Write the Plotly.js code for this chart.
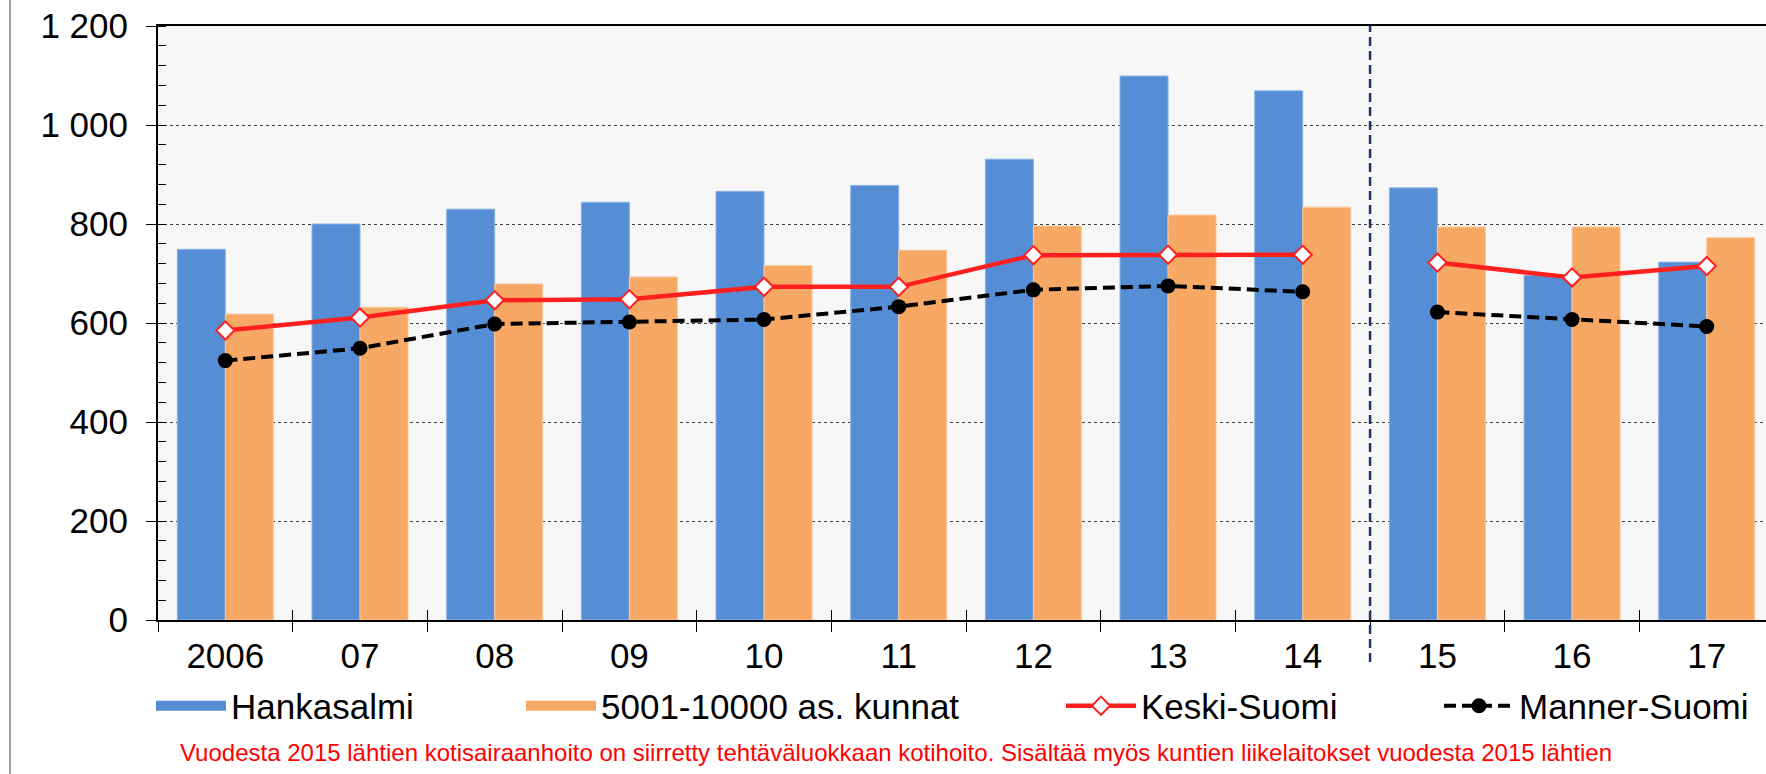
<!DOCTYPE html>
<html>
<head>
<meta charset="utf-8">
<script src="https://cdn.plot.ly/plotly-3.0.1.min.js"></script>
<style>
  html, body { margin: 0; padding: 0; background: #fff; overflow: hidden; }
  #chart { width: 1766px; height: 774px; }
</style>
</head>
<body>
<div id="chart"></div>
<script>
// vuodet ja sarjat (luettu kuvasta)
var years = ['2006', '07', '08', '09', '10', '11', '12', '13', '14', '15', '16', '17'];
var hankasalmi = [749, 800, 830, 844, 866, 878, 931, 1099, 1069, 873, 696, 723];
var kunnat = [618, 632, 679, 693, 716, 747, 796, 818, 834, 794, 794, 772];
var keskiSuomi = [585, 611, 646, 648, 673, 673, 737, 738, 738, 722, 692, 715];
var mannerSuomi = [524, 549, 598, 602, 607, 633, 667, 675, 663, 622, 607, 593];
var breakAt = 9; // 2015 tilastomuutos
var note = 'Vuodesta 2015 lähtien kotisairaanhoito on siirretty tehtäväluokkaan kotihoito. Sisältää myös kuntien liikelaitokset vuodesta 2015 lähtien';

var font = 'Arial, "Liberation Sans", sans-serif';
var red = '#FF1F1F';
var blue = '#558ED5';
var orange = '#F7A864';

var keskiLine = {
    type: 'scatter', mode: 'lines+markers', xaxis: 'x2', yaxis: 'y',
    line: { color: red, width: 4.5 },
    marker: { symbol: 'diamond', size: 14, color: '#fff', line: { color: red, width: 2 } },
    legendgroup: 'keski', cliponaxis: false
};
var mannerLine = {
    type: 'scatter', mode: 'lines+markers', xaxis: 'x2', yaxis: 'y',
    line: { color: '#000', width: 4, dash: '12px,6px' },
    marker: { symbol: 'circle', size: 15, color: '#000' },
    legendgroup: 'manner', cliponaxis: false
};

// leveat selitelaatikot pylväille (Plotlyn oma pylväsmerkki on pieni neliö)
function swatch(name, color, legend) {
    return {
        type: 'scatter', mode: 'lines', name: name, x: [years[0]], y: [null],
        line: { color: color, width: 18 }, legend: legend, hoverinfo: 'skip'
    };
}

var data = [
    {
        type: 'bar', name: 'Hankasalmi', x: years, y: hankasalmi,
        marker: { color: blue, line: { color: '#8DB3E2', width: 1 } },
        showlegend: false
    },
    {
        type: 'bar', name: '5001-10000 as. kunnat', x: years, y: kunnat,
        marker: { color: orange, line: { color: '#FAC8A0', width: 1 } },
        showlegend: false
    },
    swatch('Hankasalmi', blue, 'legend'),
    swatch('5001-10000 as. kunnat', orange, 'legend2'),
    Object.assign({}, keskiLine, { name: 'Keski-Suomi', x: years.slice(0, breakAt), y: keskiSuomi.slice(0, breakAt), legend: 'legend3' }),
    Object.assign({}, keskiLine, { name: 'Keski-Suomi', x: years.slice(breakAt), y: keskiSuomi.slice(breakAt), showlegend: false, legend: 'legend3' }),
    Object.assign({}, mannerLine, { name: 'Manner-Suomi', x: years.slice(0, breakAt), y: mannerSuomi.slice(0, breakAt), legend: 'legend4' }),
    Object.assign({}, mannerLine, { name: 'Manner-Suomi', x: years.slice(breakAt), y: mannerSuomi.slice(breakAt), showlegend: false, legend: 'legend4' })
];

var plotW = 1766 - 158, plotH = 774 - 26 - 154;
function px(x) { return (x - 158) / plotW; }
function py(y) { return (620 - y) / plotH; }

function legendAt(x) {
    return {
        x: px(x), xanchor: 'left', y: py(706), yanchor: 'middle',
        orientation: 'h', bgcolor: 'rgba(0,0,0,0)', borderwidth: 0,
        itemwidth: 70, font: { family: font, size: 35, color: '#000' }
    };
}

var layout = {
    width: 1766, height: 774,
    margin: { l: 158, r: 0, t: 26, b: 154 },
    paper_bgcolor: '#fff', plot_bgcolor: '#F7F7F7',
    font: { family: font, size: 35, color: '#000' },
    separators: ', ',
    barmode: 'group', bargap: 0.287, bargroupgap: 0,
    showlegend: true,
    xaxis: {
        type: 'category', categoryarray: years, range: [-0.5, 11.44],
        showline: true, linecolor: '#000', linewidth: 2, mirror: true,
        ticks: 'outside', tickson: 'boundaries', ticklen: 10, tickcolor: '#000', tickwidth: 1,
        showgrid: false, zeroline: false, ticklabelstandoff: 4
    },
    xaxis2: {
        type: 'category', categoryarray: years, overlaying: 'x', matches: 'x', anchor: 'y',
        ticks: 'inside', tickson: 'boundaries', ticklen: 10, tickcolor: '#000', tickwidth: 1,
        showticklabels: false, showline: false, showgrid: false, zeroline: false
    },
    yaxis: {
        range: [0, 1200], tick0: 0, dtick: 200, separatethousands: true,
        showline: true, linecolor: '#000', linewidth: 2,
        ticks: 'outside', ticklen: 10, tickcolor: '#000', tickwidth: 1,
        showgrid: true, gridcolor: '#404040', gridwidth: 1, griddash: 'dot',
        zeroline: false, ticklabelstandoff: 11,
        minor: { dtick: 40, ticks: 'inside', ticklen: 8, tickcolor: '#000', tickwidth: 1, showgrid: false }
    },
    legend: legendAt(151),
    legend2: legendAt(521),
    legend3: legendAt(1061),
    legend4: legendAt(1439),
    shapes: [
        { type: 'line', xref: 'x', yref: 'paper', x0: breakAt - 0.5, x1: breakAt - 0.5, y0: py(662), y1: 1,
          line: { color: '#1F3864', width: 2.5, dash: '9px,5px' } },
        { type: 'line', xref: 'paper', yref: 'paper', x0: px(10), x1: px(10), y0: py(774), y1: py(0),
          line: { color: '#808080', width: 1.5 } }
    ],
    annotations: [
        { text: note, xref: 'paper', yref: 'paper', x: px(896), y: py(752), xanchor: 'center', yanchor: 'middle',
          showarrow: false, font: { family: font, size: 24, color: '#FF0000' } }
    ]
};

Plotly.newPlot('chart', data, layout, { displayModeBar: false, staticPlot: true });
</script>
</body>
</html>
